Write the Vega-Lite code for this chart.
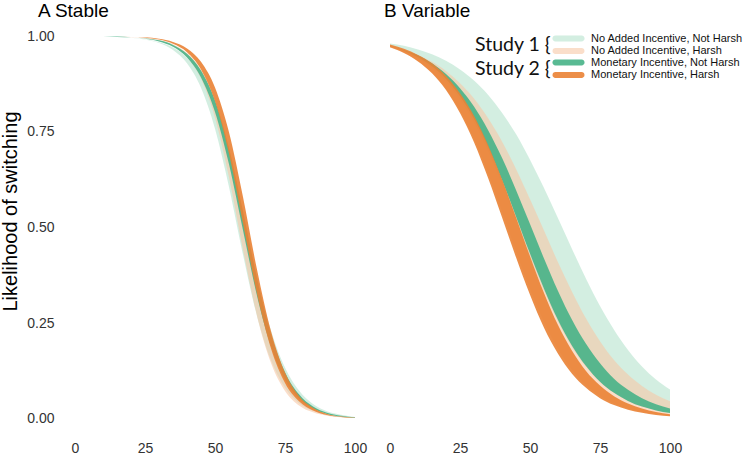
{
  "$schema": "https://vega.github.io/schema/vega-lite/v6.json",
  "description": "Likelihood of switching, stable vs variable environments, by incentive and harshness.",
  "padding": {"left": 0, "right": 0, "top": 2, "bottom": 0},
  "background": "white",
  "config": {
    "view": {"stroke": null},
    "font": "Liberation Sans",
    "axis": {
      "grid": false,
      "domain": false,
      "ticks": false,
      "tickSize": 0,
      "labelFontSize": 14,
      "labelColor": "#333333",
      "labelFont": "Liberation Sans"
    }
  },
  "data": {
    "values": [
      {"p": "A", "c": "NN", "x": 0, "lo": 1.000, "hi": 1.000},
      {"p": "A", "c": "NN", "x": 5, "lo": 0.999, "hi": 0.999},
      {"p": "A", "c": "NN", "x": 10, "lo": 0.999, "hi": 0.999},
      {"p": "A", "c": "NN", "x": 15, "lo": 0.998, "hi": 0.998},
      {"p": "A", "c": "NN", "x": 20, "lo": 0.996, "hi": 0.996},
      {"p": "A", "c": "NN", "x": 25, "lo": 0.991, "hi": 0.992},
      {"p": "A", "c": "NN", "x": 30, "lo": 0.982, "hi": 0.984},
      {"p": "A", "c": "NN", "x": 35, "lo": 0.964, "hi": 0.970},
      {"p": "A", "c": "NN", "x": 40, "lo": 0.929, "hi": 0.943},
      {"p": "A", "c": "NN", "x": 45, "lo": 0.865, "hi": 0.894},
      {"p": "A", "c": "NN", "x": 50, "lo": 0.758, "hi": 0.813},
      {"p": "A", "c": "NN", "x": 55, "lo": 0.606, "hi": 0.690},
      {"p": "A", "c": "NN", "x": 60, "lo": 0.429, "hi": 0.533},
      {"p": "A", "c": "NN", "x": 65, "lo": 0.269, "hi": 0.370},
      {"p": "A", "c": "NN", "x": 70, "lo": 0.153, "hi": 0.231},
      {"p": "A", "c": "NN", "x": 75, "lo": 0.081, "hi": 0.134},
      {"p": "A", "c": "NN", "x": 80, "lo": 0.041, "hi": 0.074},
      {"p": "A", "c": "NN", "x": 85, "lo": 0.021, "hi": 0.039},
      {"p": "A", "c": "NN", "x": 90, "lo": 0.010, "hi": 0.020},
      {"p": "A", "c": "NN", "x": 95, "lo": 0.005, "hi": 0.011},
      {"p": "A", "c": "NN", "x": 100, "lo": 0.002, "hi": 0.005},

      {"p": "A", "c": "NH", "x": 0, "lo": 1.000, "hi": 1.000},
      {"p": "A", "c": "NH", "x": 5, "lo": 1.000, "hi": 1.000},
      {"p": "A", "c": "NH", "x": 10, "lo": 0.999, "hi": 0.999},
      {"p": "A", "c": "NH", "x": 15, "lo": 0.999, "hi": 0.999},
      {"p": "A", "c": "NH", "x": 20, "lo": 0.997, "hi": 0.998},
      {"p": "A", "c": "NH", "x": 25, "lo": 0.994, "hi": 0.995},
      {"p": "A", "c": "NH", "x": 30, "lo": 0.988, "hi": 0.990},
      {"p": "A", "c": "NH", "x": 35, "lo": 0.974, "hi": 0.979},
      {"p": "A", "c": "NH", "x": 40, "lo": 0.945, "hi": 0.956},
      {"p": "A", "c": "NH", "x": 45, "lo": 0.889, "hi": 0.913},
      {"p": "A", "c": "NH", "x": 50, "lo": 0.787, "hi": 0.835},
      {"p": "A", "c": "NH", "x": 55, "lo": 0.631, "hi": 0.707},
      {"p": "A", "c": "NH", "x": 60, "lo": 0.442, "hi": 0.537},
      {"p": "A", "c": "NH", "x": 65, "lo": 0.269, "hi": 0.357},
      {"p": "A", "c": "NH", "x": 70, "lo": 0.146, "hi": 0.210},
      {"p": "A", "c": "NH", "x": 75, "lo": 0.073, "hi": 0.113},
      {"p": "A", "c": "NH", "x": 80, "lo": 0.035, "hi": 0.058},
      {"p": "A", "c": "NH", "x": 85, "lo": 0.017, "hi": 0.028},
      {"p": "A", "c": "NH", "x": 90, "lo": 0.008, "hi": 0.014},
      {"p": "A", "c": "NH", "x": 95, "lo": 0.004, "hi": 0.007},
      {"p": "A", "c": "NH", "x": 100, "lo": 0.002, "hi": 0.003},

      {"p": "A", "c": "MN", "x": 0, "lo": 1.000, "hi": 1.000},
      {"p": "A", "c": "MN", "x": 5, "lo": 1.000, "hi": 1.000},
      {"p": "A", "c": "MN", "x": 10, "lo": 0.999, "hi": 0.999},
      {"p": "A", "c": "MN", "x": 15, "lo": 0.998, "hi": 0.999},
      {"p": "A", "c": "MN", "x": 20, "lo": 0.997, "hi": 0.997},
      {"p": "A", "c": "MN", "x": 25, "lo": 0.993, "hi": 0.994},
      {"p": "A", "c": "MN", "x": 30, "lo": 0.986, "hi": 0.989},
      {"p": "A", "c": "MN", "x": 35, "lo": 0.972, "hi": 0.977},
      {"p": "A", "c": "MN", "x": 40, "lo": 0.944, "hi": 0.954},
      {"p": "A", "c": "MN", "x": 45, "lo": 0.892, "hi": 0.910},
      {"p": "A", "c": "MN", "x": 50, "lo": 0.802, "hi": 0.832},
      {"p": "A", "c": "MN", "x": 55, "lo": 0.665, "hi": 0.708},
      {"p": "A", "c": "MN", "x": 60, "lo": 0.493, "hi": 0.543},
      {"p": "A", "c": "MN", "x": 65, "lo": 0.322, "hi": 0.368},
      {"p": "A", "c": "MN", "x": 70, "lo": 0.189, "hi": 0.221},
      {"p": "A", "c": "MN", "x": 75, "lo": 0.102, "hi": 0.122},
      {"p": "A", "c": "MN", "x": 80, "lo": 0.053, "hi": 0.064},
      {"p": "A", "c": "MN", "x": 85, "lo": 0.027, "hi": 0.032},
      {"p": "A", "c": "MN", "x": 90, "lo": 0.013, "hi": 0.016},
      {"p": "A", "c": "MN", "x": 95, "lo": 0.006, "hi": 0.008},
      {"p": "A", "c": "MN", "x": 100, "lo": 0.003, "hi": 0.004},

      {"p": "A", "c": "MH", "x": 0, "lo": 1.000, "hi": 1.000},
      {"p": "A", "c": "MH", "x": 5, "lo": 1.000, "hi": 1.000},
      {"p": "A", "c": "MH", "x": 10, "lo": 1.000, "hi": 1.000},
      {"p": "A", "c": "MH", "x": 15, "lo": 0.999, "hi": 0.999},
      {"p": "A", "c": "MH", "x": 20, "lo": 0.998, "hi": 0.998},
      {"p": "A", "c": "MH", "x": 25, "lo": 0.996, "hi": 0.997},
      {"p": "A", "c": "MH", "x": 30, "lo": 0.991, "hi": 0.993},
      {"p": "A", "c": "MH", "x": 35, "lo": 0.980, "hi": 0.985},
      {"p": "A", "c": "MH", "x": 40, "lo": 0.958, "hi": 0.968},
      {"p": "A", "c": "MH", "x": 45, "lo": 0.913, "hi": 0.933},
      {"p": "A", "c": "MH", "x": 50, "lo": 0.830, "hi": 0.866},
      {"p": "A", "c": "MH", "x": 55, "lo": 0.693, "hi": 0.749},
      {"p": "A", "c": "MH", "x": 60, "lo": 0.511, "hi": 0.580},
      {"p": "A", "c": "MH", "x": 65, "lo": 0.327, "hi": 0.390},
      {"p": "A", "c": "MH", "x": 70, "lo": 0.184, "hi": 0.229},
      {"p": "A", "c": "MH", "x": 75, "lo": 0.094, "hi": 0.121},
      {"p": "A", "c": "MH", "x": 80, "lo": 0.046, "hi": 0.060},
      {"p": "A", "c": "MH", "x": 85, "lo": 0.022, "hi": 0.029},
      {"p": "A", "c": "MH", "x": 90, "lo": 0.010, "hi": 0.013},
      {"p": "A", "c": "MH", "x": 95, "lo": 0.005, "hi": 0.006},
      {"p": "A", "c": "MH", "x": 100, "lo": 0.002, "hi": 0.003},

      {"p": "B", "c": "NN", "x": 0, "lo": 0.972, "hi": 0.981},
      {"p": "B", "c": "NN", "x": 5, "lo": 0.959, "hi": 0.975},
      {"p": "B", "c": "NN", "x": 10, "lo": 0.941, "hi": 0.965},
      {"p": "B", "c": "NN", "x": 15, "lo": 0.916, "hi": 0.953},
      {"p": "B", "c": "NN", "x": 20, "lo": 0.881, "hi": 0.936},
      {"p": "B", "c": "NN", "x": 25, "lo": 0.834, "hi": 0.913},
      {"p": "B", "c": "NN", "x": 30, "lo": 0.774, "hi": 0.884},
      {"p": "B", "c": "NN", "x": 35, "lo": 0.700, "hi": 0.847},
      {"p": "B", "c": "NN", "x": 40, "lo": 0.613, "hi": 0.800},
      {"p": "B", "c": "NN", "x": 45, "lo": 0.519, "hi": 0.744},
      {"p": "B", "c": "NN", "x": 50, "lo": 0.424, "hi": 0.677},
      {"p": "B", "c": "NN", "x": 55, "lo": 0.334, "hi": 0.603},
      {"p": "B", "c": "NN", "x": 60, "lo": 0.254, "hi": 0.524},
      {"p": "B", "c": "NN", "x": 65, "lo": 0.188, "hi": 0.444},
      {"p": "B", "c": "NN", "x": 70, "lo": 0.136, "hi": 0.366},
      {"p": "B", "c": "NN", "x": 75, "lo": 0.097, "hi": 0.295},
      {"p": "B", "c": "NN", "x": 80, "lo": 0.068, "hi": 0.233},
      {"p": "B", "c": "NN", "x": 85, "lo": 0.047, "hi": 0.180},
      {"p": "B", "c": "NN", "x": 90, "lo": 0.033, "hi": 0.137},
      {"p": "B", "c": "NN", "x": 95, "lo": 0.023, "hi": 0.103},
      {"p": "B", "c": "NN", "x": 100, "lo": 0.015, "hi": 0.077},

      {"p": "B", "c": "NH", "x": 0, "lo": 0.971, "hi": 0.974},
      {"p": "B", "c": "NH", "x": 5, "lo": 0.956, "hi": 0.964},
      {"p": "B", "c": "NH", "x": 10, "lo": 0.935, "hi": 0.951},
      {"p": "B", "c": "NH", "x": 15, "lo": 0.905, "hi": 0.933},
      {"p": "B", "c": "NH", "x": 20, "lo": 0.862, "hi": 0.909},
      {"p": "B", "c": "NH", "x": 25, "lo": 0.805, "hi": 0.877},
      {"p": "B", "c": "NH", "x": 30, "lo": 0.731, "hi": 0.837},
      {"p": "B", "c": "NH", "x": 35, "lo": 0.642, "hi": 0.786},
      {"p": "B", "c": "NH", "x": 40, "lo": 0.542, "hi": 0.725},
      {"p": "B", "c": "NH", "x": 45, "lo": 0.438, "hi": 0.653},
      {"p": "B", "c": "NH", "x": 50, "lo": 0.339, "hi": 0.574},
      {"p": "B", "c": "NH", "x": 55, "lo": 0.253, "hi": 0.492},
      {"p": "B", "c": "NH", "x": 60, "lo": 0.182, "hi": 0.409},
      {"p": "B", "c": "NH", "x": 65, "lo": 0.128, "hi": 0.332},
      {"p": "B", "c": "NH", "x": 70, "lo": 0.088, "hi": 0.262},
      {"p": "B", "c": "NH", "x": 75, "lo": 0.060, "hi": 0.203},
      {"p": "B", "c": "NH", "x": 80, "lo": 0.040, "hi": 0.154},
      {"p": "B", "c": "NH", "x": 85, "lo": 0.027, "hi": 0.116},
      {"p": "B", "c": "NH", "x": 90, "lo": 0.018, "hi": 0.086},
      {"p": "B", "c": "NH", "x": 95, "lo": 0.012, "hi": 0.063},
      {"p": "B", "c": "NH", "x": 100, "lo": 0.008, "hi": 0.046},

      {"p": "B", "c": "MN", "x": 0, "lo": 0.974, "hi": 0.975},
      {"p": "B", "c": "MN", "x": 5, "lo": 0.962, "hi": 0.964},
      {"p": "B", "c": "MN", "x": 10, "lo": 0.945, "hi": 0.950},
      {"p": "B", "c": "MN", "x": 15, "lo": 0.921, "hi": 0.929},
      {"p": "B", "c": "MN", "x": 20, "lo": 0.888, "hi": 0.901},
      {"p": "B", "c": "MN", "x": 25, "lo": 0.843, "hi": 0.864},
      {"p": "B", "c": "MN", "x": 30, "lo": 0.784, "hi": 0.816},
      {"p": "B", "c": "MN", "x": 35, "lo": 0.711, "hi": 0.755},
      {"p": "B", "c": "MN", "x": 40, "lo": 0.624, "hi": 0.682},
      {"p": "B", "c": "MN", "x": 45, "lo": 0.529, "hi": 0.598},
      {"p": "B", "c": "MN", "x": 50, "lo": 0.432, "hi": 0.509},
      {"p": "B", "c": "MN", "x": 55, "lo": 0.340, "hi": 0.419},
      {"p": "B", "c": "MN", "x": 60, "lo": 0.258, "hi": 0.334},
      {"p": "B", "c": "MN", "x": 65, "lo": 0.191, "hi": 0.259},
      {"p": "B", "c": "MN", "x": 70, "lo": 0.138, "hi": 0.196},
      {"p": "B", "c": "MN", "x": 75, "lo": 0.097, "hi": 0.145},
      {"p": "B", "c": "MN", "x": 80, "lo": 0.068, "hi": 0.105},
      {"p": "B", "c": "MN", "x": 85, "lo": 0.047, "hi": 0.076},
      {"p": "B", "c": "MN", "x": 90, "lo": 0.032, "hi": 0.054},
      {"p": "B", "c": "MN", "x": 95, "lo": 0.022, "hi": 0.038},
      {"p": "B", "c": "MN", "x": 100, "lo": 0.015, "hi": 0.027},

      {"p": "B", "c": "MH", "x": 0, "lo": 0.971, "hi": 0.978},
      {"p": "B", "c": "MH", "x": 5, "lo": 0.956, "hi": 0.967},
      {"p": "B", "c": "MH", "x": 10, "lo": 0.934, "hi": 0.951},
      {"p": "B", "c": "MH", "x": 15, "lo": 0.903, "hi": 0.929},
      {"p": "B", "c": "MH", "x": 20, "lo": 0.859, "hi": 0.896},
      {"p": "B", "c": "MH", "x": 25, "lo": 0.799, "hi": 0.851},
      {"p": "B", "c": "MH", "x": 30, "lo": 0.723, "hi": 0.792},
      {"p": "B", "c": "MH", "x": 35, "lo": 0.630, "hi": 0.716},
      {"p": "B", "c": "MH", "x": 40, "lo": 0.527, "hi": 0.626},
      {"p": "B", "c": "MH", "x": 45, "lo": 0.422, "hi": 0.527},
      {"p": "B", "c": "MH", "x": 50, "lo": 0.324, "hi": 0.425},
      {"p": "B", "c": "MH", "x": 55, "lo": 0.238, "hi": 0.329},
      {"p": "B", "c": "MH", "x": 60, "lo": 0.170, "hi": 0.245},
      {"p": "B", "c": "MH", "x": 65, "lo": 0.118, "hi": 0.178},
      {"p": "B", "c": "MH", "x": 70, "lo": 0.081, "hi": 0.125},
      {"p": "B", "c": "MH", "x": 75, "lo": 0.054, "hi": 0.087},
      {"p": "B", "c": "MH", "x": 80, "lo": 0.036, "hi": 0.059},
      {"p": "B", "c": "MH", "x": 85, "lo": 0.024, "hi": 0.040},
      {"p": "B", "c": "MH", "x": 90, "lo": 0.016, "hi": 0.027},
      {"p": "B", "c": "MH", "x": 95, "lo": 0.010, "hi": 0.018},
      {"p": "B", "c": "MH", "x": 100, "lo": 0.007, "hi": 0.012}
    ]
  },
  "spacing": 7,
  "resolve": {"scale": {"fill": "shared", "color": "shared", "x": "independent", "y": "shared"}},
  "hconcat": [
    {
      "title": {"text": "A  Stable", "anchor": "start", "frame": "group", "dx": -23, "offset": -4, "fontSize": 19, "fontWeight": "normal", "font": "Liberation Sans", "color": "black"},
      "width": 308,
      "height": 421,
      "transform": [{"filter": "datum.p === 'A'"}],
      "layer": [
        {
          "transform": [{"filter": "datum.c === 'NN' || datum.c === 'NH'"}],
          "mark": {"type": "area", "interpolate": "monotone", "opacity": 0.6},
          "encoding": {
            "x": {"field": "x", "type": "quantitative", "scale": {"domain": [-5, 105], "nice": false}, "axis": {"values": [0, 25, 50, 75, 100], "title": null, "labelPadding": 3}},
            "y": {"field": "lo", "type": "quantitative", "scale": {"domain": [-0.05, 1.05], "nice": false}, "axis": {"values": [0, 0.25, 0.5, 0.75, 1], "format": ".2f", "title": "Likelihood of switching", "titleFontSize": 20, "titleFontWeight": "normal", "titleColor": "black", "titleFont": "Liberation Sans", "titlePadding": 6, "titleY": 194, "labelPadding": 7}},
            "y2": {"field": "hi"},
            "fill": {
              "field": "c",
              "type": "nominal",
              "scale": {"domain": ["NN", "NH"], "range": ["#b5e2cd", "#f6c8a6"]},
              "legend": {
                "title": "Study 1 {",
                "orient": "none",
                "legendX": 414,
                "legendY": 16,
                "titleOrient": "left",
                "titleAnchor": "middle",
                "titleBaseline": "middle",
                "titleFont": "Lato",
                "titleFontSize": 19.5,
                "titleFontWeight": "normal",
                "titleColor": "#111111",
                "titlePadding": 11,
                "symbolType": "M -2.45,-0.55 L 2.45,-0.55 A 0.55,0.55 0 0 1 2.45,0.55 L -2.45,0.55 A 0.55,0.55 0 0 1 -2.45,-0.55 Z",
                "symbolSize": 114,
                "symbolOpacity": 1,
                "symbolStrokeWidth": 0,
                "rowPadding": 0.5,
                "labelOffset": 17,
                "labelFontSize": 11,
                "labelFont": "Liberation Sans",
                "labelColor": "#111111",
                "labelLimit": 300,
                "labelExpr": "datum.label === 'NN' ? 'No Added Incentive, Not Harsh' : 'No Added Incentive, Harsh'"
              }
            }
          }
        },
        {
          "transform": [{"filter": "datum.c === 'MN' || datum.c === 'MH'"}],
          "mark": {"type": "area", "interpolate": "monotone", "opacity": 0.9},
          "encoding": {
            "x": {"field": "x", "type": "quantitative"},
            "y": {"field": "lo", "type": "quantitative"},
            "y2": {"field": "hi"},
            "color": {
              "field": "c",
              "type": "nominal",
              "scale": {"domain": ["MN", "MH"], "range": ["#47b387", "#ea8234"]},
              "legend": {
                "title": "Study 2 {",
                "orient": "none",
                "legendX": 414,
                "legendY": 40,
                "titleOrient": "left",
                "titleAnchor": "middle",
                "titleBaseline": "middle",
                "titleFont": "Lato",
                "titleFontSize": 19.5,
                "titleFontWeight": "normal",
                "titleColor": "#111111",
                "titlePadding": 11,
                "symbolType": "M -2.45,-0.55 L 2.45,-0.55 A 0.55,0.55 0 0 1 2.45,0.55 L -2.45,0.55 A 0.55,0.55 0 0 1 -2.45,-0.55 Z",
                "symbolSize": 114,
                "symbolOpacity": 1,
                "symbolStrokeWidth": 0,
                "rowPadding": 0.5,
                "labelOffset": 17,
                "labelFontSize": 11,
                "labelFont": "Liberation Sans",
                "labelColor": "#111111",
                "labelLimit": 300,
                "labelExpr": "datum.label === 'MN' ? 'Monetary Incentive, Not Harsh' : 'Monetary Incentive, Harsh'"
              }
            }
          }
        }
      ]
    },
    {
      "title": {"text": "B  Variable", "anchor": "start", "frame": "group", "dx": 8, "offset": -4, "fontSize": 19, "fontWeight": "normal", "font": "Liberation Sans", "color": "black"},
      "width": 308,
      "height": 421,
      "transform": [{"filter": "datum.p === 'B'"}],
      "layer": [
        {
          "transform": [{"filter": "datum.c === 'NN' || datum.c === 'NH'"}],
          "mark": {"type": "area", "interpolate": "monotone", "opacity": 0.6},
          "encoding": {
            "x": {"field": "x", "type": "quantitative", "scale": {"domain": [-5, 105], "nice": false}, "axis": {"values": [0, 25, 50, 75, 100], "title": null, "labelPadding": 3}},
            "y": {"field": "lo", "type": "quantitative", "scale": {"domain": [-0.05, 1.05], "nice": false}, "axis": null},
            "y2": {"field": "hi"},
            "fill": {"field": "c", "type": "nominal"}
          }
        },
        {
          "transform": [{"filter": "datum.c === 'MN' || datum.c === 'MH'"}],
          "mark": {"type": "area", "interpolate": "monotone", "opacity": 0.9},
          "encoding": {
            "x": {"field": "x", "type": "quantitative"},
            "y": {"field": "lo", "type": "quantitative", "axis": null},
            "y2": {"field": "hi"},
            "color": {"field": "c", "type": "nominal"}
          }
        }
      ]
    }
  ]
}
